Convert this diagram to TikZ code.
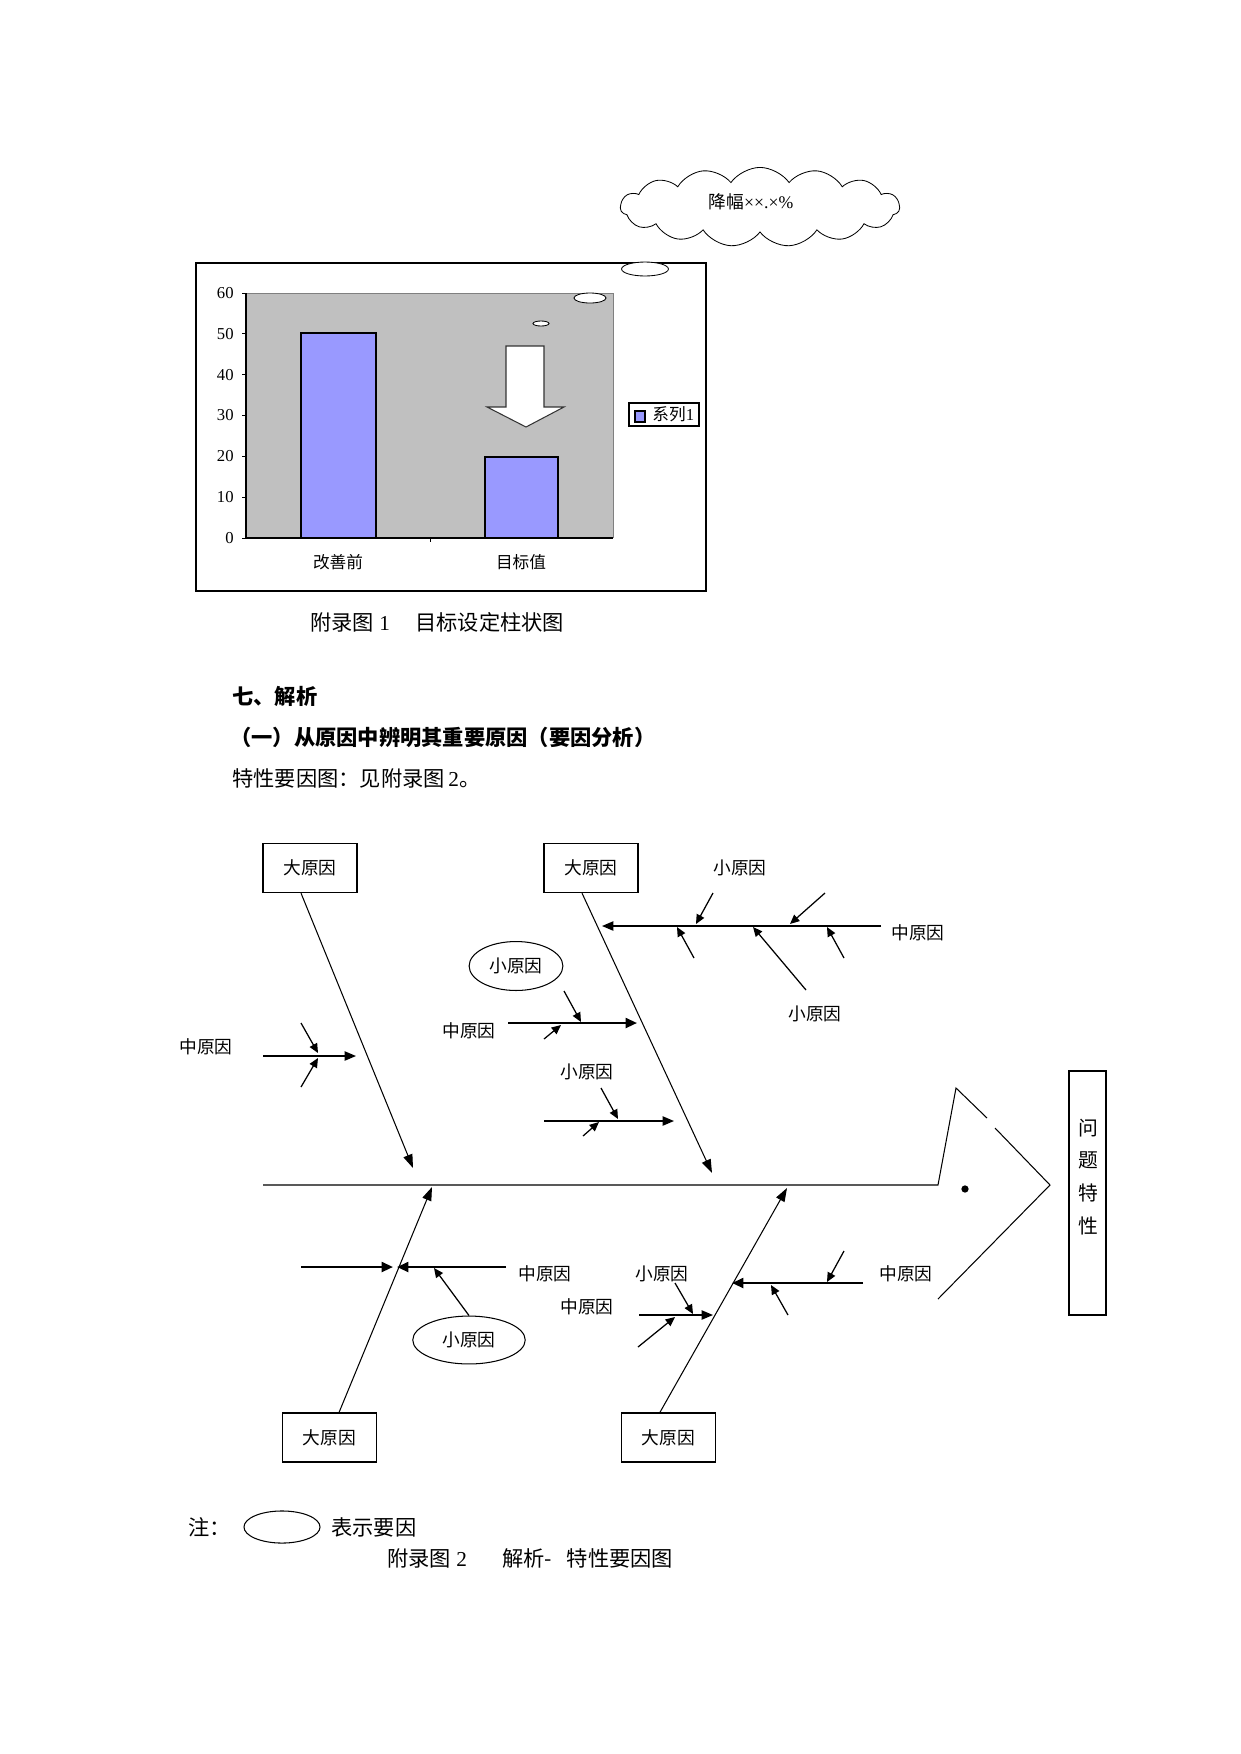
\documentclass[tikz,border=0pt]{standalone}
\usepackage{fontspec}
\setmainfont{Liberation Serif}
\newfontfamily\cjk{Noto Sans CJK SC}
\usetikzlibrary{arrows.meta,shapes.geometric,shapes.symbols}

\definecolor{barblue}{RGB}{153,153,255}
\definecolor{plotgray}{RGB}{192,192,192}

\tikzset{
  bigcause/.style={draw,line width=0.7pt,minimum width=45pt,minimum height=23.5pt,inner sep=0pt,font=\cjk\fontsize{8.5}{10}\selectfont},
  cause/.style={inner sep=0pt,font=\cjk\fontsize{8.5}{10}\selectfont},
  keycause/.style={draw,ellipse,line width=0.5pt,inner sep=0pt,font=\cjk\fontsize{8.5}{10}\selectfont},
  bone/.style={line width=0.5pt,-{Triangle[length=6.5pt,width=4.5pt]}},
  midarrow/.style={line width=0.6pt,-{Triangle[length=5.5pt,width=4.5pt]}},
  boldarrow/.style={line width=1.1pt,-{Triangle[length=5.5pt,width=4.8pt]}},
  smallarrow/.style={line width=0.6pt,-{Triangle[length=4.5pt,width=4pt]}},
  bodytext/.style={anchor=west,inner sep=0pt,font=\fontsize{10.2}{12}\selectfont},
  charttext/.style={inner sep=0pt,font=\fontsize{8}{9.6}\selectfont}
}

\begin{document}
\begin{tikzpicture}[x=0.48pt,y=-0.48pt]
\useasboundingbox (0,0) rectangle (1241,1754);

\draw[line width=1pt] (196,263) rectangle (706,591);
\fill[plotgray] (246,293) rectangle (613,538);
\draw[gray,line width=0.4pt] (246,293) -- (613,293) -- (613,538);
\draw[line width=0.6pt] (246,293) -- (246,538) -- (613,538);
\foreach \v in {0,10,...,60}{
  \draw (242,538-\v*4.0833) -- (246,538-\v*4.0833);
  \node (ylab\v) at (234,538-\v*4.0833) [charttext,anchor=east] {\v};
}
\draw[fill=barblue,line width=1pt] (301,538) rectangle (376,333);
\draw[fill=barblue,line width=1pt] (485,538) rectangle (558,457);
\draw (430,538) -- (430,542);
\draw[fill=white,draw=black!80,line width=0.5pt] (506,346) -- (544,346) -- (544,407) -- (564,407)
  -- (526,427) -- (487,407) -- (506,407) -- cycle;
\node (before) at (338,562) [charttext] {\cjk 改善前};
\node (target) at (521,562) [charttext] {\cjk 目标值};
\node (legend) at (664,414.5) [draw,line width=0.6pt,minimum width=33.6pt,minimum height=11pt] {};
\draw[fill=barblue,line width=0.6pt] (635,411) rectangle (645,422);
\node (legendtxt) at (652,414.5) [charttext,anchor=west] {{\cjk 系列}1};
\node (cloud) at (760,207) [cloud,draw,cloud puffs=15,cloud puff arc=110,cloud ignores aspect,
  minimum width=134pt,minimum height=38pt,inner sep=0pt] {};
\node (cloudtxt) at (751,202) [inner sep=0pt,font=\fontsize{8.5}{10}\selectfont] {{\cjk 降幅}××.×\%};
\node (puff1) at (645,269) [ellipse,draw,fill=white,minimum width=22.5pt,minimum height=6.7pt,inner sep=0pt] {};
\node (puff2) at (590,298) [ellipse,draw,fill=white,minimum width=15.4pt,minimum height=4.8pt,inner sep=0pt] {};
\node (puff3) at (541,323.5) [ellipse,draw,fill=white,minimum width=7.7pt,minimum height=2.4pt,inner sep=0pt] {};

\node (cap1a) at (310,622) [bodytext] {{\cjk 附录图} 1};
\node (cap1b) at (415,622) [bodytext] {\cjk 目标设定柱状图};
\node (sec7) at (232,696) [bodytext] {\cjk\bfseries 七、解析};
\node (sec71) at (230,737) [bodytext] {\cjk\bfseries （一）从原因中辨明其重要原因（要因分析）};
\node (seefig) at (232,778) [bodytext] {{\cjk 特性要因图：见附录图}\,2{\cjk 。}};

\coordinate (spineL) at (263,1185);
\coordinate (spineR) at (938,1185);
\coordinate (headT) at (956,1088);
\coordinate (headG1) at (987,1118);
\coordinate (headG2) at (995,1128);
\coordinate (headN) at (1050,1185);
\coordinate (headB) at (938,1299);
\draw[line width=0.5pt] (spineL) -- (spineR) -- (headT) -- (headG1);
\draw[line width=0.5pt] (headG2) -- (headN) -- (headB);
\node (eye) at (965,1189) [circle,fill,inner sep=0pt,minimum size=3.5pt] {};
\node (issue) at (1087.5,1193) [draw,line width=0.7pt,minimum width=17.8pt,minimum height=117pt] {};
\node (issuetxt) at (1088,1177) [align=center,inner sep=0pt,font=\cjk\fontsize{9.5}{15.8}\selectfont] {问\\题\\特\\性};

\node (bigA) at (310,868) [bigcause] {大原因};
\node (bigB) at (591,868) [bigcause] {大原因};
\node (bigC) at (329.5,1437.5) [bigcause] {大原因};
\node (bigD) at (668.5,1437.5) [bigcause] {大原因};
\coordinate (tipA) at (413,1168);
\coordinate (tipB) at (712,1173);
\coordinate (tipC) at (432,1187);
\coordinate (tipD) at (787,1188);
\draw[bone] ([xshift=-4.3pt]bigA.south) -- (tipA);
\draw[bone] ([xshift=-4.3pt]bigB.south) -- (tipB);
\draw[bone] ([xshift=4.6pt]bigC.north) -- (tipC);
\draw[bone] ([xshift=-4.1pt]bigD.north) -- (tipD);

\coordinate (a1s) at (263,1056);  \coordinate (a1e) at (356,1056);
\coordinate (b1s) at (881,926);   \coordinate (b1e) at (602,926);
\coordinate (b2s) at (508,1023);  \coordinate (b2e) at (637,1023);
\coordinate (b3s) at (544,1121);  \coordinate (b3e) at (674,1121);
\coordinate (c1s) at (301,1267);  \coordinate (c1e) at (393,1267);
\coordinate (c2s) at (506,1267);  \coordinate (c2e) at (397,1267);
\coordinate (d1s) at (863,1283);  \coordinate (d1e) at (732,1283);
\coordinate (d2s) at (639,1315);  \coordinate (d2e) at (713,1315);
\draw[midarrow] (a1s) -- (a1e);
\draw[midarrow] (b1s) -- (b1e);
\draw[boldarrow] (b2s) -- (b2e);
\draw[midarrow] (b3s) -- (b3e);
\draw[boldarrow] (c1s) -- (c1e);
\draw[boldarrow] (c2s) -- (c2e);
\draw[boldarrow] (d1s) -- (d1e);
\draw[midarrow] (d2s) -- (d2e);

\node (midA1) at (206,1047) [cause] {中原因};
\node (midB1) at (918,933) [cause] {中原因};
\node (smallB1a) at (740,868) [cause] {小原因};
\node (smallB1b) at (815,1014) [cause] {小原因};
\node (midB2) at (469,1031) [cause] {中原因};
\node (keyB2) at (516,966) [keycause,minimum width=45pt,minimum height=23.5pt] {小原因};
\node (smallB3) at (587,1072) [cause] {小原因};
\node (midC2) at (545,1274) [cause] {中原因};
\node (keyC2) at (469,1340) [keycause,minimum width=54pt,minimum height=23pt] {小原因};
\node (midD1) at (906,1274) [cause] {中原因};
\node (smallD2) at (662,1274) [cause] {小原因};
\node (midD2) at (587,1307) [cause] {中原因};

\coordinate (c2k) at (434,1268);
\draw[smallarrow] (keyC2.north) -- (c2k);
\foreach \n/\sx/\sy/\ex/\ey in {1/301/1023/318/1053, 2/301/1087/318/1058,
    3/713/893/696/924, 4/825/893/790/924, 5/694/958/677/927, 6/844/958/827/927, 7/806/990/753/927,
    8/564/991/581/1022, 9/544/1039/561/1025, 10/601/1088/618/1119, 11/583/1136/599/1122,
    12/844/1251/827/1282, 13/788/1315/771/1285, 14/675/1283/693/1314, 15/638/1347/675/1317}{
  \coordinate (s\n) at (\sx,\sy);
  \coordinate (e\n) at (\ex,\ey);
  \draw[smallarrow] (s\n) -- (e\n);
}

\node (note) at (188,1527) [bodytext] {\cjk 注：};
\node (notekey) at (282,1527) [keycause,minimum width=36.5pt,minimum height=15.4pt] {};
\node (notetxt) at (331,1527) [bodytext] {\cjk 表示要因};
\node (cap2a) at (387,1558) [bodytext] {{\cjk 附录图} 2};
\node (cap2b) at (502,1558) [bodytext] {{\cjk 解析-}\hspace{7pt}{\cjk 特性要因图}};
\end{tikzpicture}
\end{document}
